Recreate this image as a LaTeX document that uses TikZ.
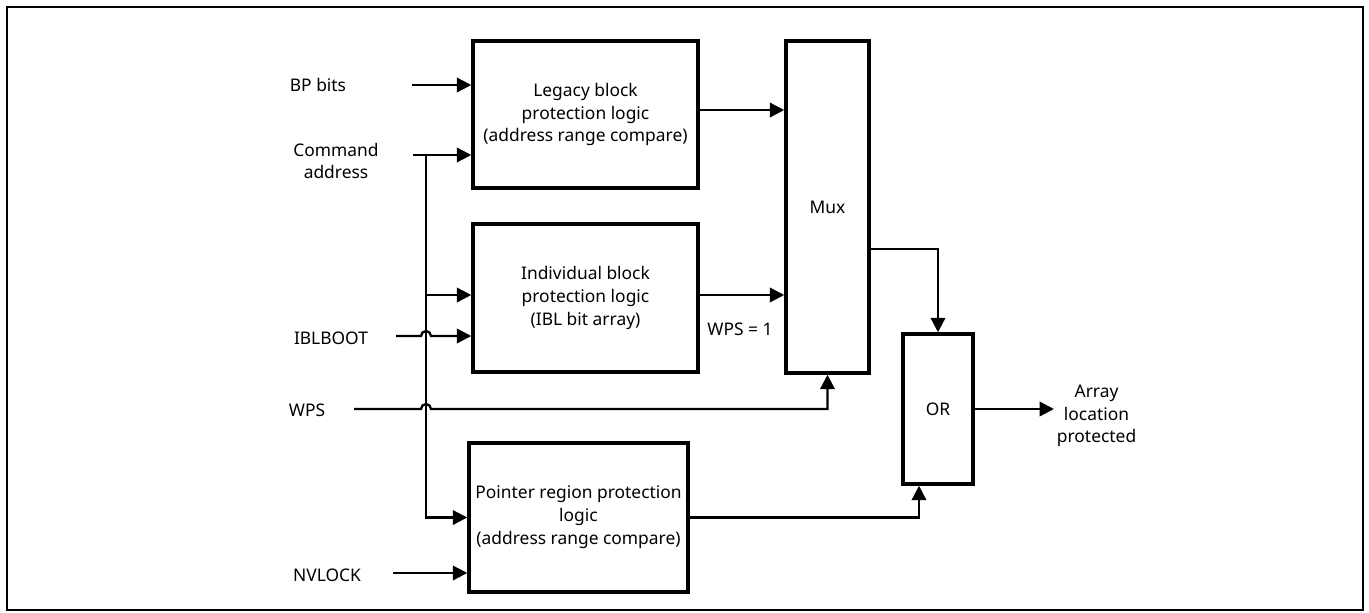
\documentclass[tikz,border=0pt]{standalone}
\usepackage{fontspec}
\setmainfont{Noto Sans}
\usetikzlibrary{arrows.meta}

\begin{document}
\begin{tikzpicture}[x=0.02cm,y=-0.02cm,>={Triangle[length=2.9mm,width=2.9mm]},
  font=\fontsize{9.9}{13}\selectfont,line width=1.3pt,line cap=butt,
  blk/.style={draw,line width=2pt,align=center,inner sep=0pt},
  lbl/.style={align=center,inner sep=1pt}]
\useasboundingbox (0,0) rectangle (1369,612);
\draw (7,7) rectangle (1363,610);
% blocks
\node[blk,minimum width=4.5cm,minimum height=2.94cm] (legacy) at (585.5,114.5) {Legacy block\\protection logic\\(address range compare)};
\node[blk,minimum width=4.5cm,minimum height=2.96cm] (indiv) at (585.5,298) {Individual block\\protection logic\\(IBL bit array)};
\node[blk,minimum width=4.38cm,minimum height=2.98cm] (pointer) at (578.5,517.5) {Pointer region protection\\logic\\(address range compare)};
\node[blk,minimum width=1.66cm,minimum height=6.64cm] (mux) at (827.5,207) {Mux};
\node[blk,minimum width=1.4cm,minimum height=3cm] (orbox) at (938,409) {OR};
% labels
\node[lbl] (bp) at (318,85) {BP bits};
\node[lbl] (cmd) at (336,161) {Command\\address};
\node[lbl] (iblboot) at (331,338) {IBLBOOT};
\node[lbl] (wps) at (307,410) {WPS};
\node[lbl] (nvlock) at (327,575) {NVLOCK};
\node[lbl] (wpsone) at (740,329) {WPS = 1};
\node[lbl,anchor=west] (arr) at (1054,416) {Array\\location\\protected};
% free ends
\coordinate (bpin) at (412,85);
\coordinate (cmdin) at (413,155);
\coordinate (tap) at (426,155);
\coordinate (ibin) at (426,295);
\coordinate (iblin) at (396,336);
\coordinate (wpsin) at (354,409);
\coordinate (nvin) at (393,573);
% inputs
\draw[->] (bpin) -- (bpin -| legacy.west);
\draw[->] (cmdin) -- (cmdin -| legacy.west);
\draw[->] (tap) |- (pointer.west);
\draw[->] (ibin) -- (ibin -| indiv.west);
\draw[->] (iblin) -- (421,336) arc[start angle=180,end angle=0,radius=0.1cm] -- (iblin -| indiv.west);
\draw[->] (wpsin) -- (421,409) arc[start angle=180,end angle=0,radius=0.1cm] -- (mux.south |- wpsin) -- (mux.south);
\draw[->] (nvin) -- (nvin -| pointer.west);
% outputs
\draw[->] ([yshift=0.09cm]legacy.east) coordinate (lo) -- (lo -| mux.west);
\draw[->] ([yshift=0.06cm]indiv.east) coordinate (io) -- (io -| mux.west);
\draw[->] ([yshift=-0.84cm]mux.east) -| (orbox.north);
\draw[->] (pointer.east) -| ([xshift=-0.38cm]orbox.south);
\draw[->] (orbox.east) -- (orbox.east -| arr.west);
\end{tikzpicture}
\end{document}
